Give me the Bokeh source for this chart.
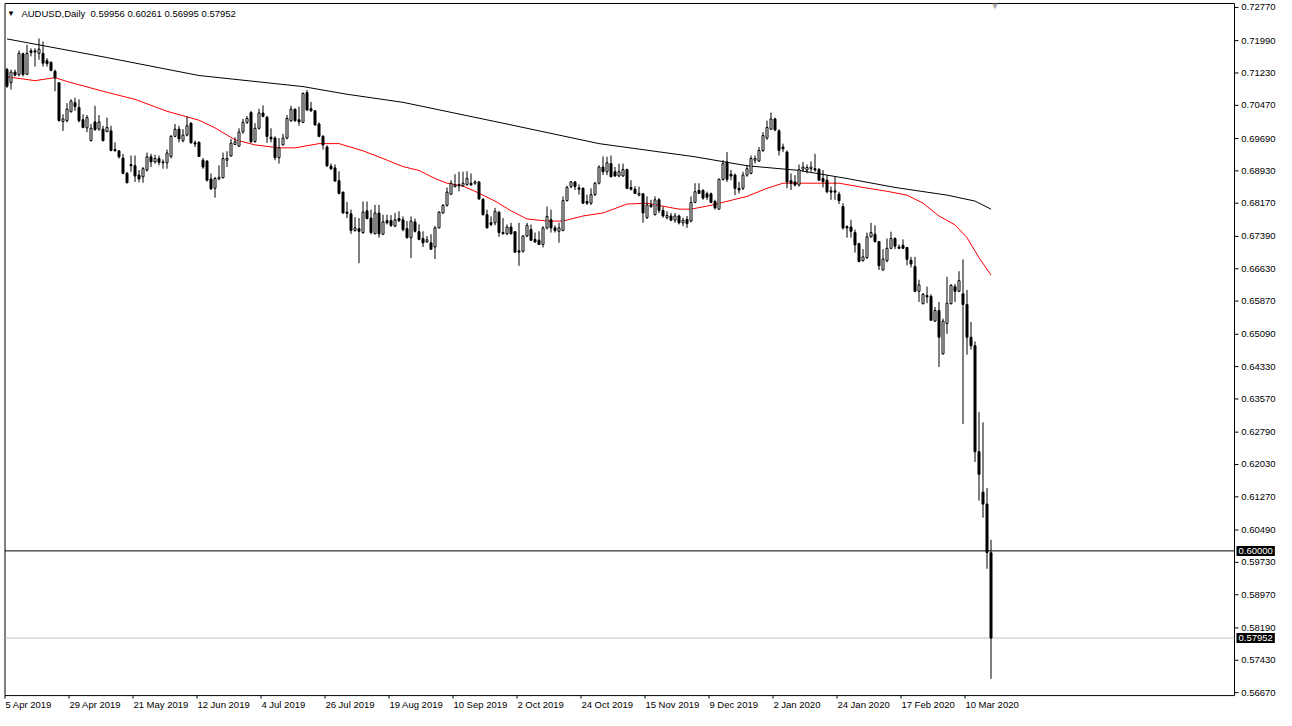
from bokeh.plotting import figure
from bokeh.models import Label, ColumnDataSource, Range1d
from bokeh.core.properties import value
from bokeh.embed import file_html
from bokeh.resources import INLINE

symbol = "AUDUSD,Daily"

open_ = [
    .7131, .7100, .7125, .7119, .7168, .7120, .7175, .7175, .7169, .7169,
    .7152, .7148, .7127, .7100, .7009, .7011, .7032, .7053, .7042, .7013,
    .6994, .6964, .7008, .6991, .6991, .6985, .6987, .6943, .6940, .6923,
    .6887, .6908, .6905, .6883, .6879, .6895, .6926, .6914, .6922, .6914,
    .6912, .6927, .6974, .6991, .6964, .6977, .7005, .6959, .6960,
    .6918, .6916, .6874, .6852, .6874, .6877, .6918, .6928, .6955, .6951,
    .6985, .7007, .7030, .6962, .6993, .7029, .7019, .6972, .6970, .6924,
    .6954, .6970, .7011, .7038, .7013, .7007, .7077, .7039, .7034, .7003,
    .6974, .6949, .6904, .6900, .6870, .6843, .6796, .6792, .6753, .6757,
    .6748, .6799, .6782, .6745, .6794, .6744, .6776, .6776, .6763, .6781,
    .6778, .6757, .6736, .6773, .6750, .6734, .6726, .6724, .6714, .6759,
    .6794, .6812, .6838, .6856, .6861, .6858, .6861, .6864, .6864, .6867,
    .6826, .6790, .6771, .6771, .6796, .6748, .6745, .6761, .6750, .6705,
    .6704, .6740, .6755, .6732, .6730, .6720, .6759, .6778, .6759, .6751,
    .6753, .6823, .6856, .6867, .6853, .6852, .6821, .6817, .6837, .6864,
    .6902, .6891, .6910, .6891, .6881, .6881, .6896, .6854, .6850, .6836,
    .6839, .6783, .6813, .6790, .6825, .6800, .6783, .6787, .6777, .6787,
    .6771, .6779, .6775, .6819, .6847, .6847, .6839, .6839, .6821, .6803,
    .6873, .6914, .6885, .6883, .6852, .6852, .6883, .6887, .6918, .6916,
    .6941, .6970, .6991, .7015, .6987, .6949, .6937, .6870, .6867, .6860,
    .6897, .6895, .6898, .6898, .6896, .6875, .6871, .6846, .6846, .6838,
    .6809, .6762, .6761, .6748, .6722, .6682, .6689, .6738, .6744, .6727,
    .6660, .6682, .6711, .6734, .6714, .6718, .6713, .6683, .6668, .6610,
    .6581, .6600, .6598, .6540, .6565, .6463, .6534, .6581, .6621, .6610,
    .6604, .6579, .6502, .6482, .6233, .6138, .6110, .59956,
]
high = [
    .7135, .7131, .7131, .7176, .7171, .7189, .7181, .7181, .7204, .7197,
    .7158, .7150, .7131, .7101, .7026, .7052, .7061, .7065, .7061, .7026,
    .7024, .7003, .7046, .7024, .6999, .7018, .6999, .6960, .6941, .6933,
    .6891, .6929, .6929, .6895, .6902, .6936, .6933, .6931, .6929, .6920,
    .6943, .6977, .7003, .6999, .6991, .7021, .7007, .6964, .6962,
    .6923, .6918, .6887, .6879, .6906, .6936, .6939, .6968, .6972, .6993,
    .7015, .7022, .7034, .7005, .7039, .7047, .7022, .6993, .6974, .6970,
    .6980, .7024, .7046, .7039, .7044, .7077, .7083, .7055, .7036, .7007,
    .6977, .6953, .6910, .6908, .6892, .6844, .6820, .6802, .6784, .6782,
    .6821, .6821, .6802, .6813, .6813, .6790, .6790, .6789, .6794, .6798,
    .6786, .6775, .6786, .6781, .6767, .6751, .6740, .6744, .6763, .6798,
    .6815, .6854, .6871, .6885, .6891, .6891, .6892, .6887, .6871, .6869,
    .6829, .6802, .6786, .6806, .6798, .6782, .6767, .6771, .6751, .6771,
    .6742, .6771, .6767, .6748, .6751, .6763, .6809, .6802, .6765, .6771,
    .6833, .6858, .6869, .6869, .6861, .6854, .6837, .6852, .6867, .6906,
    .6927, .6926, .6929, .6902, .6910, .6910, .6898, .6871, .6857, .6856,
    .6840, .6833, .6825, .6833, .6829, .6809, .6798, .6794, .6794, .6790,
    .6783, .6787, .6833, .6864, .6864, .6850, .6844, .6842, .6825, .6875,
    .6918, .6937, .6895, .6887, .6867, .6891, .6906, .6929, .6929, .6949,
    .6984, .7011, .7030, .7018, .6991, .6957, .6941, .6887, .6883, .6908,
    .6914, .6908, .6915, .6933, .6900, .6895, .6883, .6856, .6879, .6844,
    .6817, .6765, .6778, .6755, .6724, .6709, .6748, .6771, .6765, .6728,
    .6709, .6734, .6750, .6737, .6720, .6732, .6714, .6691, .6691, .6637,
    .6606, .6621, .6603, .6573, .6585, .6546, .6644, .6627, .6627, .6657,
    .6685, .6613, .6538, .6492, .6326, .6302, .6148, .60261,
]
low = [
    .7088, .7084, .7115, .7115, .7115, .7118, .7162, .7138, .7154, .7138,
    .7138, .7127, .7080, .7009, .6987, .7007, .7030, .7034, .7007, .6993,
    .6984, .6962, .6987, .6987, .6962, .6984, .6939, .6939, .6922, .6885,
    .6864, .6891, .6867, .6866, .6865, .6891, .6902, .6910, .6906, .6898,
    .6898, .6922, .6972, .6960, .6960, .6974, .6957, .6949, .6926,
    .6898, .6868, .6848, .6830, .6871, .6875, .6902, .6926, .6953, .6949,
    .6980, .7003, .6959, .6959, .6990, .7019, .6959, .6960, .6918, .6910,
    .6953, .6967, .7008, .7008, .6999, .7005, .7034, .7032, .6999, .6972,
    .6943, .6902, .6895, .6868, .6838, .6793, .6782, .6745, .6750, .6676,
    .6745, .6779, .6744, .6744, .6736, .6742, .6767, .6761, .6761, .6773,
    .6751, .6734, .6688, .6748, .6730, .6714, .6724, .6708, .6686, .6758,
    .6792, .6809, .6837, .6854, .6845, .6856, .6858, .6858, .6860, .6825,
    .6788, .6758, .6763, .6765, .6738, .6744, .6742, .6744, .6701, .6670,
    .6701, .6737, .6728, .6724, .6719, .6713, .6755, .6748, .6748, .6724,
    .6751, .6821, .6852, .6848, .6837, .6815, .6813, .6813, .6834, .6861,
    .6883, .6883, .6878, .6879, .6878, .6879, .6850, .6847, .6839, .6833,
    .6771, .6780, .6806, .6788, .6794, .6783, .6779, .6775, .6771, .6767,
    .6763, .6759, .6772, .6817, .6839, .6825, .6825, .6817, .6802, .6802,
    .6870, .6867, .6871, .6836, .6840, .6848, .6879, .6885, .6910, .6914,
    .6937, .6966, .6989, .6986, .6929, .6937, .6852, .6848, .6856, .6856,
    .6891, .6887, .6891, .6891, .6869, .6854, .6840, .6825, .6825, .6815,
    .6755, .6736, .6736, .6701, .6678, .6680, .6686, .6736, .6724, .6660,
    .6659, .6678, .6709, .6709, .6709, .6709, .6671, .6666, .6608, .6585,
    .6579, .6582, .6541, .6538, .6432, .6461, .6510, .6579, .6585, .6608,
    .6298, .6461, .6473, .6209, .6118, .6078, .5958, .56995,
]
close = [
    .7092, .7125, .7118, .7169, .7119, .7169, .7171, .7172, .7179, .7146,
    .7145, .7129, .7111, .7011, .7015, .7038, .7057, .7044, .7011, .6995,
    .7018, .6993, .6990, .7008, .6964, .6995, .6941, .6940, .6926, .6887,
    .6865, .6905, .6881, .6874, .6898, .6926, .6914, .6922, .6913, .6912,
    .6935, .6974, .6991, .6968, .6977, .6999, .6959, .6956, .6927,
    .6902, .6871, .6851, .6875, .6878, .6922, .6922, .6958, .6961, .6984,
    .7007, .7016, .6961, .6993, .7029, .7021, .6974, .6968, .6924, .6947,
    .6970, .7016, .7038, .7011, .7008, .7075, .7036, .7034, .7001, .6974,
    .6954, .6905, .6898, .6869, .6840, .6794, .6793, .6753, .6759, .6751,
    .6796, .6781, .6748, .6794, .6745, .6773, .6771, .6765, .6778, .6776,
    .6755, .6736, .6775, .6751, .6732, .6724, .6731, .6709, .6759, .6796,
    .6812, .6843, .6864, .6860, .6858, .6864, .6875, .6860, .6867, .6827,
    .6790, .6759, .6767, .6798, .6748, .6745, .6761, .6745, .6702, .6702,
    .6740, .6765, .6730, .6726, .6720, .6759, .6786, .6759, .6753, .6759,
    .6823, .6854, .6867, .6856, .6850, .6817, .6817, .6837, .6864, .6902,
    .6891, .6912, .6879, .6881, .6891, .6896, .6852, .6850, .6840, .6840,
    .6794, .6813, .6809, .6825, .6800, .6787, .6788, .6777, .6787, .6771,
    .6777, .6769, .6819, .6844, .6840, .6829, .6831, .6819, .6806, .6873,
    .6910, .6873, .6881, .6852, .6848, .6883, .6898, .6922, .6922, .6941,
    .6976, .6995, .7015, .6989, .6941, .6945, .6867, .6864, .6860, .6896,
    .6902, .6901, .6902, .6895, .6871, .6868, .6844, .6843, .6843, .6823,
    .6759, .6759, .6751, .6719, .6680, .6691, .6738, .6748, .6727, .6670,
    .6686, .6711, .6734, .6716, .6711, .6711, .6685, .6674, .6610, .6625,
    .6603, .6597, .6542, .6565, .6502, .6540, .6582, .6624, .6610, .6635,
    .6579, .6502, .6482, .6233, .6180, .6110, .5996, .57952,
]

# moving averages (bar index, price)
ma_red_idx = [0, 7, 12, 15, 24, 32, 40, 48, 52, 57, 62, 68, 72, 78, 83, 89, 94, 99, 103, 107,
              110, 114, 117, 122, 126, 130, 135, 139, 144, 149, 155, 160, 168, 171, 176, 185,
              190, 194, 198, 208, 214, 220, 225, 229, 233, 237, 240, 243, 246]
ma_red = [0.7114, 0.7105, 0.7112, 0.7103, 0.7080, 0.7061, 0.7033, 0.7012, 0.6994, 0.6966,
          0.6954, 0.6947, 0.6947, 0.6957, 0.6957, 0.6940, 0.6922, 0.6903, 0.6894, 0.6875,
          0.6864, 0.6857, 0.6845, 0.6822, 0.6799, 0.6780, 0.6775, 0.6775, 0.6787, 0.6794,
          0.6815, 0.6817, 0.6803, 0.6803, 0.6812, 0.6833, 0.6852, 0.6864, 0.6864, 0.6864,
          0.6854, 0.6845, 0.6836, 0.6817, 0.6787, 0.6766, 0.6736, 0.6689, 0.6648]
ma_black_idx = [0, 24, 48, 74, 85, 99, 124, 148, 172, 185, 198, 210, 222, 235, 242, 246]
ma_black = [0.7203, 0.7161, 0.7117, 0.7091, 0.7073, 0.7054, 0.7005, 0.6957, 0.6926, 0.6905,
            0.6894, 0.6875, 0.6854, 0.6836, 0.6822, 0.6803]

date_tick_idx = [0, 16, 32, 48, 64, 80, 96, 112, 128, 144, 160, 176, 192, 208, 224, 240]
date_labels = ["5 Apr 2019", "29 Apr 2019", "21 May 2019", "12 Jun 2019", "4 Jul 2019",
               "26 Jul 2019", "19 Aug 2019", "10 Sep 2019", "2 Oct 2019", "24 Oct 2019",
               "15 Nov 2019", "9 Dec 2019", "2 Jan 2020", "24 Jan 2020", "17 Feb 2020",
               "10 Mar 2020"]
price_ticks = [0.72770, 0.71990, 0.71230, 0.70470, 0.69690, 0.68930, 0.68170, 0.67390,
               0.66630, 0.65870, 0.65090, 0.64330, 0.63570, 0.62790, 0.62030, 0.61270,
               0.60490, 0.59730, 0.58970, 0.58190, 0.57430, 0.56670]
level_line = 0.60000
bid_line = 0.57952

# ---------------- layout constants (not data) ----------------
W, H = 1276, 710
PX_PER_BAR = 4.0
X0 = -1.625                      # data x at canvas left edge
PRICE_TOP = 0.72933              # price at canvas top edge
PRICE_PER_PX = 0.00023498
x_lo, x_hi = -0.5, 306.875       # chart frame in data units
y_lo, y_hi = 0.56600, 0.72863
FONT = "Liberation Sans"
FS = "9.5px"

n = len(close)
idx = list(range(n))
up = [c >= o for o, c in zip(open_, close)]


def subset(flag):
    xs, tops, bots = [], [], []
    for i in idx:
        if up[i] == flag:
            xs.append(i)
            tops.append(max(open_[i], close[i]))
            bots.append(min(open_[i], close[i]))
    return ColumnDataSource(dict(x=xs, top=tops, bottom=bots))


p = figure(width=W, height=H,
           x_range=Range1d(X0, X0 + W / PX_PER_BAR),
           y_range=Range1d(PRICE_TOP - H * PRICE_PER_PX, PRICE_TOP),
           toolbar_location=None, output_backend="svg",
           x_axis_location=None, y_axis_location=None,
           min_border=0, min_border_left=0, min_border_right=0,
           min_border_top=0, min_border_bottom=0)
p.grid.visible = False
p.outline_line_color = None
p.background_fill_color = "white"
p.border_fill_color = "white"

# chart frame
p.quad(left=[x_lo], right=[x_hi], bottom=[y_lo], top=[y_hi],
       fill_color=None, line_color="black", line_width=1)

# price scale: ticks + labels
p.segment(x0=[x_hi] * len(price_ticks), x1=[x_hi + 1.0] * len(price_ticks),
          y0=price_ticks, y1=price_ticks, line_color="black", line_width=1)
p.text(x=[x_hi + 1.7] * len(price_ticks), y=price_ticks,
       text=[f"{t:.5f}" for t in price_ticks],
       text_font=value(FONT), text_font_size=FS, text_color="black",
       text_baseline="middle", text_align="left")

# time scale: ticks + labels
date_x = [t - 0.5 for t in date_tick_idx]
tick_len = 3 * PRICE_PER_PX
p.segment(x0=date_x, x1=date_x, y0=[y_lo] * len(date_x), y1=[y_lo - tick_len] * len(date_x),
          line_color="black", line_width=1)
p.text(x=[t + 0.1 for t in date_x], y=[y_lo - 9 * PRICE_PER_PX] * len(date_x),
       text=date_labels, text_font=value(FONT), text_font_size=FS, text_color="black",
       text_baseline="middle", text_align="left")

# level lines
p.segment(x0=[x_lo], x1=[x_hi], y0=[level_line], y1=[level_line],
          line_color="black", line_width=1)
p.segment(x0=[x_lo], x1=[x_hi], y0=[bid_line], y1=[bid_line],
          line_color="#c0c0c0", line_width=1)

# moving averages
p.line(ma_black_idx, ma_black, line_color="black", line_width=1)
p.line(ma_red_idx, ma_red, line_color="red", line_width=1)

# candles
p.segment(x0=idx, y0=low, x1=idx, y1=high, line_color="black", line_width=1)
p.vbar(x="x", width=0.5, top="top", bottom="bottom", source=subset(True),
       fill_color="white", line_color="black", line_width=1)
p.vbar(x="x", width=0.5, top="top", bottom="bottom", source=subset(False),
       fill_color="black", line_color="black", line_width=1)

# header text
head_y = PRICE_TOP - 13 * PRICE_PER_PX
p.add_layout(Label(x=1.0, y=head_y, text="\u25BC", text_font=FONT, text_font_size="8px",
                   text_color="black", text_baseline="middle", text_align="center"))
p.add_layout(Label(x=3.6, y=head_y,
                   text=f"{symbol}\u00a0\u00a0{open_[-1]:.5f} {high[-1]:.5f} "
                        f"{low[-1]:.5f} {close[-1]:.5f}",
                   text_font=FONT, text_font_size=FS, text_color="black",
                   text_baseline="middle"))

# chart-shift marker
p.add_layout(Label(x=n, y=PRICE_TOP - 5 * PRICE_PER_PX, text="\u25BC", text_font=FONT,
                   text_font_size="9px", text_color="#a8a8a8", text_baseline="middle",
                   text_align="center"))

# price boxes on the scale
for val in (level_line, bid_line):
    p.add_layout(Label(x=x_hi + 0.5, y=val, text=f"{val:.5f}", text_font=FONT,
                       text_font_size=FS, text_color="white", text_baseline="middle",
                       background_fill_color="black", padding=2))

open("out.html", "w").write(file_html(p, INLINE))
